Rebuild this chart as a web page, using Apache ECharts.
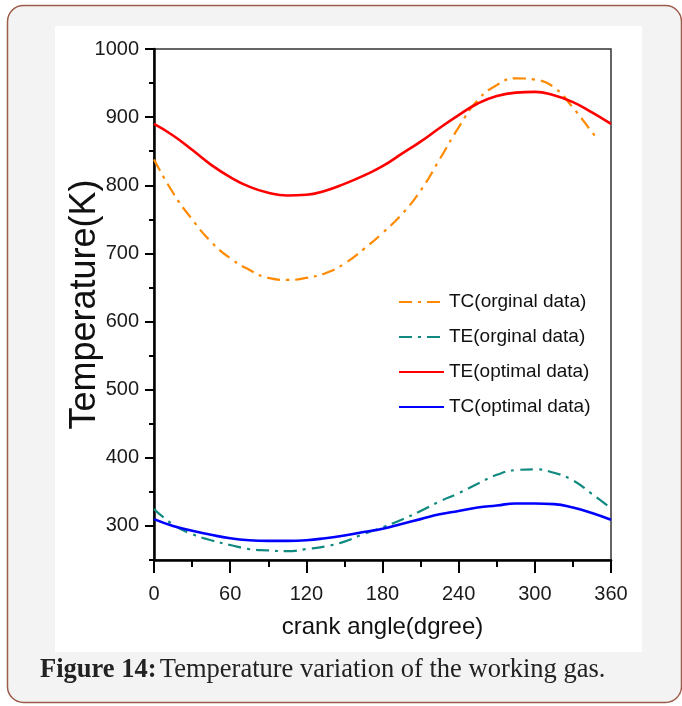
<!DOCTYPE html>
<html>
<head>
<meta charset="utf-8">
<script src="https://cdn.jsdelivr.net/npm/echarts@6/dist/echarts.min.js"></script>
<style>
  html, body { margin: 0; padding: 0; background: #ffffff; }
  #chart { width: 682px; height: 706px; }
</style>
</head>
<body>
<div id="chart"></div>
<script>
// Crank angle samples (degrees)
const angles = [0, 15, 30, 45, 60, 75, 90, 105, 120, 135, 150, 165, 180, 195, 210, 225, 240, 255, 270, 285, 300, 315, 330, 345, 360];
// The original compression-space curve stops just short of a full turn
const tcOriginalAngles = [0, 15, 30, 45, 60, 75, 90, 105, 120, 135, 150, 165, 180, 195, 210, 225, 240, 255, 270, 285, 300, 315, 330, 345, 350];

// Gas temperatures (K)
const tcOriginal = [838, 789, 750, 717, 693, 676, 664, 661, 664, 671, 685, 706, 730, 757, 792, 838, 885, 925, 947, 957, 955, 944, 914, 878, 866];
const teOriginal = [325, 302, 288, 279, 272, 266, 264, 263, 266, 270, 277, 288, 298, 309, 322, 336, 348, 362, 375, 382, 383, 378, 367, 347, 326];
const teOptimal = [890, 873, 852, 830, 812, 798, 789, 785, 786, 792, 802, 814, 828, 846, 864, 884, 903, 920, 931, 936, 937, 932, 922, 907, 890];
const tcOptimal = [310, 300, 293, 287, 282, 279, 278, 278, 279, 282, 286, 291, 296, 303, 310, 317, 322, 327, 330, 333, 333, 332, 327, 319, 309];

// Axis ticks
const yMajorTicks = [300, 400, 500, 600, 700, 800, 900, 1000];
const yMinorTicks = [250, 350, 450, 550, 650, 750, 850, 950];

const seriesNames = ['TC(orginal data)', 'TE(orginal data)', 'TE(optimal data)', 'TC(optimal data)'];

function pairs(xs, ys) {
  return xs.map((x, i) => [x, ys[i]]);
}

const sans = "'Liberation Sans', Arial, sans-serif";
const tickColor = '#1a1a1a';

const chart = echarts.init(document.getElementById('chart'), null, { renderer: 'canvas' });

chart.setOption({
  animation: false,
  backgroundColor: '#ffffff',
  graphic: [
    // page frame
    { type: 'rect', z: -10, shape: { x: 7.5, y: 5.5, width: 674, height: 697, r: 16 },
      style: { fill: '#f3f3f3', stroke: '#9c5a48', lineWidth: 1.5 } },
    // figure panel
    { type: 'rect', z: -9, shape: { x: 55, y: 26, width: 587, height: 626 },
      style: { fill: '#ffffff' } },
    // caption
    { type: 'text', z: 10, left: 40, top: 657,
      style: {
        text: '{b|Figure 14:} {n|Temperature variation of the working gas.}',
        rich: {
          b: { fontFamily: "'Liberation Serif', serif", fontWeight: 'bold', fontSize: 26.5, fill: '#222' },
          n: { fontFamily: "'Liberation Serif', serif", fontSize: 26.5, fill: '#222' }
        }
      } }
  ],
  grid: {
    left: 154, top: 49, right: 71, bottom: 146,
    show: true, borderColor: '#333', borderWidth: 1.5, backgroundColor: 'transparent'
  },
  legend: {
    orient: 'vertical',
    left: 393, top: 286,
    itemWidth: 45, itemHeight: 14, itemGap: 13,
    data: seriesNames,
    itemStyle: { opacity: 0 },
    textStyle: { fontFamily: sans, fontSize: 19, color: '#111', lineHeight: 22 }
  },
  xAxis: {
    type: 'value',
    min: 0, max: 360, interval: 60,
    name: 'crank angle(dgree)',
    nameLocation: 'middle', nameGap: 55,
    nameTextStyle: { fontFamily: sans, fontSize: 24, color: '#111' },
    axisLine: { show: true, lineStyle: { color: '#000', width: 2.5 } },
    axisTick: { show: true, inside: false, length: 13, lineStyle: { color: '#000', width: 2 } },
    minorTick: { show: true, splitNumber: 2, length: 7, lineStyle: { color: '#000', width: 2 } },
    axisLabel: { margin: 24, fontFamily: sans, fontSize: 20, color: tickColor },
    splitLine: { show: false }
  },
  yAxis: [
    {
      type: 'value',
      min: 250, max: 1000,
      name: 'Temperature(K)',
      nameLocation: 'middle', nameGap: 51,
      nameMoveOverlap: false,
      nameTextStyle: { fontFamily: sans, fontSize: 36, color: '#111' },
      axisLine: { show: true, lineStyle: { color: '#000', width: 2.5 } },
      axisTick: { show: true, inside: false, length: 9, customValues: yMajorTicks, lineStyle: { color: '#000', width: 2 } },
      axisLabel: { margin: 15, fontFamily: sans, fontSize: 20, color: tickColor, customValues: yMajorTicks,
                   formatter: v => String(v) },
      splitLine: { show: false }
    },
    {
      type: 'value',
      min: 250, max: 1000,
      position: 'left',
      axisLine: { show: false },
      axisTick: { show: true, inside: false, length: 5, customValues: yMinorTicks, lineStyle: { color: '#000', width: 2 } },
      axisLabel: { show: false },
      splitLine: { show: false }
    }
  ],
  series: [
    {
      name: seriesNames[0], type: 'line', smooth: true, symbol: 'none', z: 3,
      data: pairs(tcOriginalAngles, tcOriginal),
      itemStyle: { color: '#ff8a00' },
      lineStyle: { color: '#ff8a00', width: 2.2, type: [13, 6, 3, 6] }
    },
    {
      name: seriesNames[1], type: 'line', smooth: true, symbol: 'none', z: 3,
      data: pairs(angles, teOriginal),
      itemStyle: { color: '#108a80' },
      lineStyle: { color: '#108a80', width: 2.2, type: [13, 6, 3, 6] }
    },
    {
      name: seriesNames[2], type: 'line', smooth: true, symbol: 'none', z: 4,
      data: pairs(angles, teOptimal),
      itemStyle: { color: '#ff0000' },
      lineStyle: { color: '#ff0000', width: 2.6 }
    },
    {
      name: seriesNames[3], type: 'line', smooth: true, symbol: 'none', z: 4,
      data: pairs(angles, tcOptimal),
      itemStyle: { color: '#0000ff' },
      lineStyle: { color: '#0000ff', width: 2.6 }
    }
  ]
});
</script>
</body>
</html>
